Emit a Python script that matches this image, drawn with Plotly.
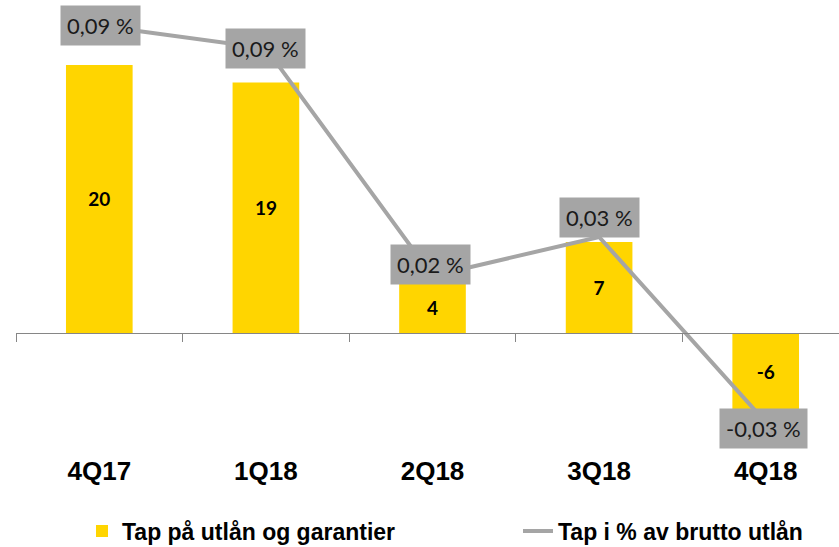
import plotly.graph_objects as go

categories = ["4Q17", "1Q18", "2Q18", "3Q18", "4Q18"]
tap_utlan = [20.0, 18.7, 3.8, 6.8, -5.7]          # Tap på utlån og garantier
tap_pct = [0.093, 0.086, 0.016, 0.028, -0.029]    # Tap i % av brutto utlån (%)

x = list(range(len(categories)))
pct_text = [f"{v:.2f}".replace(".", ",") + " %" for v in tap_pct]

BAR = "#FFD500"
GRAY = "#A5A5A5"
BOLDF = "Liberation Sans, Arial, sans-serif"
LABEL = "Lato, Calibri, Open Sans, sans-serif"

fig = go.Figure()
fig.add_trace(go.Bar(
    x=x, y=tap_utlan, name="Tap på utlån og garantier", legend="legend",
    marker=dict(color=BAR, line=dict(width=0)), width=0.4,
    texttemplate="%{y:.0f}", textposition="inside", insidetextanchor="middle",
    textfont=dict(family=LABEL, size=19, color="#000000", weight="bold"),
    textangle=0,
))
fig.add_trace(go.Scatter(
    x=x, y=tap_pct, name="Tap i % av brutto utlån", yaxis="y2",
    legend="legend2",
    mode="lines", line=dict(color=GRAY, width=4),
))
# empty trace so the zero-line axis (x2) gets drawn
fig.add_trace(go.Scatter(x=[None], y=[None], xaxis="x2", showlegend=False,
                         hoverinfo="skip"))

# label offsets (px) for percentage boxes
yshifts = [0, 0, 11, 19, -6]
xshifts = [1, 0, -2, 0, -2]
for i, (xi, v, t) in enumerate(zip(x, tap_pct, pct_text)):
    fig.add_annotation(
        x=xi, y=v, xref="x", yref="y2", text=t, showarrow=False,
        bgcolor=GRAY, borderpad=6, yshift=yshifts[i], xshift=xshifts[i],
        font=dict(family=LABEL, size=22, color="#1a1a1a"),
    )

xr = [-0.5, -0.5 + 823 / 166.6]
y1r = [-8.955, 24.85]
y2r = [-0.03846, 0.1009]

leg_common = dict(
    orientation="h", xref="container", yref="container",
    y=(547 - 531) / 547, xanchor="left", yanchor="middle",
    font=dict(family=BOLDF, size=23, color="#000000", weight="bold"),
    bgcolor="rgba(0,0,0,0)",
)

fig.update_layout(
    width=839, height=547,
    margin=dict(l=16, r=0, t=0, b=94, autoexpand=False),
    paper_bgcolor="white", plot_bgcolor="white",
    showlegend=True,
    xaxis=dict(
        range=xr, tickvals=x, ticktext=categories, showgrid=False,
        zeroline=False, showline=False, ticks="",
        tickfont=dict(family=BOLDF, size=26, color="#000000", weight="bold"),
    ),
    xaxis2=dict(
        range=xr, overlaying="x", anchor="free",
        position=(0 - y1r[0]) / (y1r[1] - y1r[0]),
        tickvals=[-0.5, 0.5, 1.5, 2.5, 3.5], showticklabels=False,
        ticks="outside", ticklen=8, tickcolor="#868686", tickwidth=1.3,
        showline=True, linecolor="#868686", linewidth=1.3, showgrid=False,
        zeroline=False,
    ),
    yaxis=dict(range=y1r, visible=False, showgrid=False, zeroline=False),
    yaxis2=dict(range=y2r, overlaying="y", visible=False, showgrid=False,
                zeroline=False),
    legend=dict(x=82 / 839, **leg_common),
    legend2=dict(x=518 / 839, **leg_common),
)

fig.write_html("out.html", config={"displayModeBar": False},
               post_script="document.body.style.margin='0';")
